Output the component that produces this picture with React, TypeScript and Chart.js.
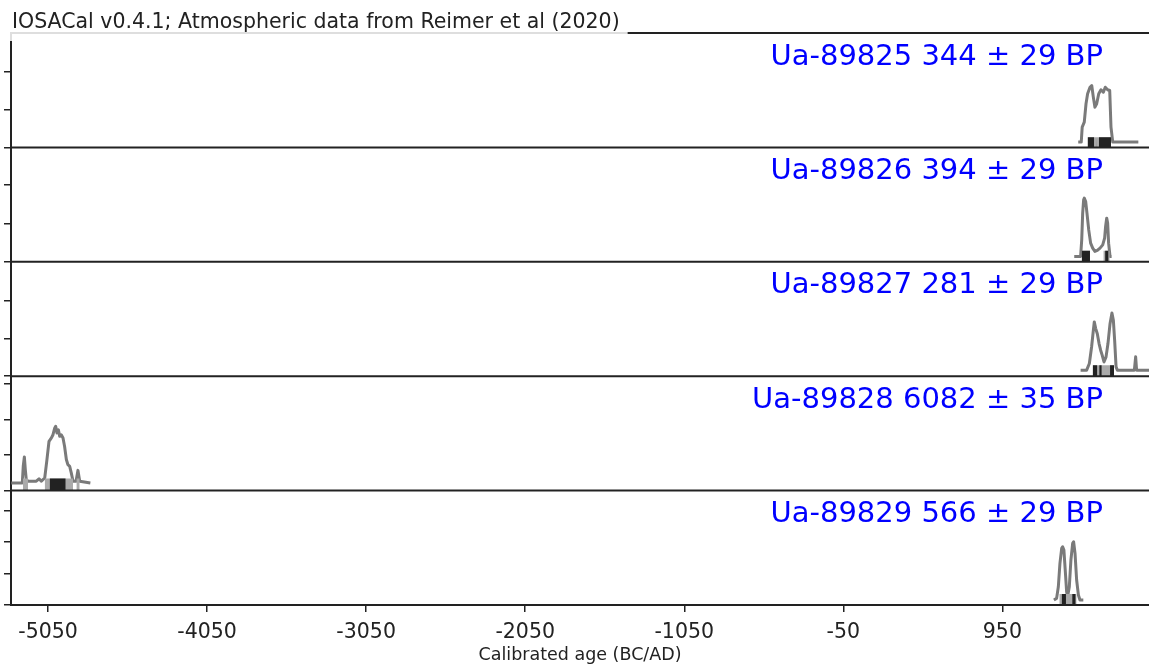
import React, { useEffect, useRef } from 'react';
import { Chart, registerables } from 'chart.js';

Chart.register(...registerables);

const TITLE = 'IOSACal v0.4.1; Atmospheric data from Reimer et al (2020)';
const X_LABEL = 'Calibrated age (BC/AD)';
const X_TICKS = [-5050, -4050, -3050, -2050, -1050, -50, 950];
const X_MIN = -5283;
const X_MAX = 1872;
const Y_TICKS = [0, 0.002, 0.004, 0.006];

const SAMPLE_LABELS = [
  'Ua-89825 344 ± 29 BP',
  'Ua-89826 394 ± 29 BP',
  'Ua-89827 281 ± 29 BP',
  'Ua-89828 6082 ± 35 BP',
  'Ua-89829 566 ± 29 BP',
];
const PANEL_MAX = [0.00603, 0.00595, 0.00603, 0.00645, 0.00727];
const BAR_HEIGHT = [0.00054, 0.00057, 0.00058, 0.00068, 0.0007];

// Ua-89825
const years1 = [1427, 1446, 1452, 1465, 1476, 1486, 1501, 1512, 1522, 1532, 1543, 1556, 1570, 1585, 1597, 1612, 1625, 1633, 1644, 1805];
const dens1 = [0.00028, 0.00028, 0.00107, 0.00133, 0.0023, 0.00283, 0.00317, 0.00326, 0.00265, 0.00212, 0.0023, 0.00283, 0.00304, 0.00291, 0.00317, 0.00304, 0.003, 0.00107, 0.00028, 0.00028];
const range95_1: [number, number][] = [[1486, 1633]];
const range68_1: [number, number][] = [[1486, 1527], [1540, 1543], [1557, 1633]];

// Ua-89826
const years2 = [1402, 1442, 1449, 1455, 1461, 1465, 1474, 1482, 1493, 1505, 1518, 1532, 1547, 1564, 1581, 1593, 1599, 1606, 1612, 1618, 1627, 1637];
const dens2 = [0.00028, 0.00028, 0.00114, 0.00253, 0.00322, 0.00331, 0.00313, 0.00253, 0.00166, 0.00097, 0.00071, 0.00054, 0.00059, 0.00071, 0.00088, 0.00123, 0.00183, 0.00227, 0.00201, 0.00097, 0.00028, 0.00028];
const range95_2: [number, number][] = [[1449, 1501], [1585, 1625]];
const range68_2: [number, number][] = [[1449, 1501], [1596, 1618]];

// Ua-89827
const years3 = [1442, 1480, 1497, 1511, 1522, 1528, 1537, 1547, 1558, 1568, 1578, 1589, 1602, 1614, 1627, 1639, 1648, 1656, 1665, 1673, 1780, 1788, 1794, 1872];
const dens3 = [0.00032, 0.00032, 0.00067, 0.00154, 0.00242, 0.00286, 0.00251, 0.00224, 0.00172, 0.00137, 0.0011, 0.00075, 0.00102, 0.00172, 0.00277, 0.00333, 0.00295, 0.00189, 0.00049, 0.00032, 0.00032, 0.00102, 0.00032, 0.00032];
const range95_3: [number, number][] = [[1518, 1652]];
const range68_3: [number, number][] = [[1518, 1547], [1559, 1575], [1627, 1652]];

// Ua-89828
const years4 = [-5281, -5212, -5206, -5199, -5193, -5187, -5176, -5124, -5107, -5092, -5071, -5057, -5044, -5029, -5019, -5008, -5002, -4994, -4985, -4977, -4967, -4956, -4946, -4935, -4925, -4914, -4904, -4893, -4874, -4862, -4851, -4784];
const dens4 = [0.00043, 0.00043, 0.00137, 0.0019, 0.00118, 0.00062, 0.00053, 0.00053, 0.00066, 0.00053, 0.00071, 0.00175, 0.00278, 0.00297, 0.00315, 0.00353, 0.00362, 0.00325, 0.00343, 0.00306, 0.00315, 0.00297, 0.00249, 0.00175, 0.00146, 0.00137, 0.001, 0.00053, 0.00053, 0.00114, 0.00053, 0.00043];
const range95_4: [number, number][] = [[-5208, -5176], [-5071, -4893], [-4872, -4851]];
const range68_4: [number, number][] = [[-5040, -4939]];

// Ua-89829
const years5 = [1274, 1291, 1302, 1312, 1323, 1329, 1337, 1348, 1354, 1360, 1371, 1381, 1392, 1398, 1407, 1417, 1428, 1438, 1459];
const dens5 = [0.00032, 0.00042, 0.00116, 0.00265, 0.0036, 0.0037, 0.00349, 0.0018, 0.00085, 0.00053, 0.00116, 0.00286, 0.00392, 0.00402, 0.00328, 0.00159, 0.00064, 0.00032, 0.00032];
const range95_5: [number, number][] = [[1308, 1417]];
const range68_5: [number, number][] = [[1323, 1350], [1389, 1411]];

const PANELS = [
  { years: years1, dens: dens1, r95: range95_1, r68: range68_1 },
  { years: years2, dens: dens2, r95: range95_2, r68: range68_2 },
  { years: years3, dens: dens3, r95: range95_3, r68: range68_3 },
  { years: years4, dens: dens4, r95: range95_4, r68: range68_4 },
  { years: years5, dens: dens5, r95: range95_5, r68: range68_5 },
];

const FONT = 'DejaVu Sans';
const INK = '#222222';

function barData(a: number, b: number, h: number) {
  return [
    { x: a, y: 0 },
    { x: a, y: h },
    { x: b, y: h },
    { x: b, y: 0 },
  ];
}

const decoPlugin = {
  id: 'deco',
  afterDraw(chart: any) {
    const ctx = chart.ctx as CanvasRenderingContext2D;
    const ca = chart.chartArea;
    ctx.save();
    // panel bottom spines
    ctx.strokeStyle = INK;
    ctx.lineWidth = 2;
    for (let i = 0; i < PANELS.length; i++) {
      const s = chart.scales['y' + i];
      ctx.beginPath();
      ctx.moveTo(ca.left - 1, s.bottom);
      ctx.lineTo(ca.right, s.bottom);
      ctx.stroke();
    }
    // top frame line
    ctx.beginPath();
    ctx.moveTo(ca.left - 1, ca.top);
    ctx.lineTo(ca.right, ca.top);
    ctx.stroke();
    // title with translucent white box
    ctx.font = `20.5px "${FONT}"`;
    const tw = ctx.measureText(TITLE).width;
    ctx.fillStyle = 'rgba(255,255,255,0.85)';
    ctx.fillRect(6, 4, tw + 14, 37);
    ctx.fillStyle = INK;
    ctx.textAlign = 'left';
    ctx.textBaseline = 'alphabetic';
    ctx.fillText(TITLE, 12, 28);
    // sample labels
    ctx.font = `29px "${FONT}"`;
    ctx.fillStyle = '#0000ff';
    ctx.textAlign = 'right';
    for (let i = 0; i < PANELS.length; i++) {
      const s = chart.scales['y' + i];
      ctx.fillText(SAMPLE_LABELS[i], 1103, s.top + 31.5);
    }
    ctx.restore();
  },
};

export default function App() {
  const ref = useRef<HTMLCanvasElement>(null);

  useEffect(() => {
    const canvas = ref.current;
    if (!canvas) return;
    const datasets: any[] = [];
    const scales: any = {
      x: {
        type: 'linear',
        position: 'bottom',
        min: X_MIN,
        max: X_MAX,
        afterBuildTicks: (s: any) => {
          s.ticks = X_TICKS.map((v) => ({ value: v }));
        },
        afterFit: (s: any) => {
          s.height = 61;
        },
        ticks: {
          callback: (v: any) => String(v),
          font: { family: FONT, size: 20.5 },
          color: INK,
          padding: 8,
          maxRotation: 0,
          autoSkip: false,
        },
        grid: { display: true, drawOnChartArea: false, drawTicks: true, tickLength: 7, color: INK, lineWidth: 1.5 },
        border: { display: true, color: INK, width: 2 },
        title: { display: true, text: X_LABEL, font: { family: FONT, size: 17.5 }, color: INK, padding: 0 },
      },
    };

    PANELS.forEach((p, i) => {
      const yId = 'y' + i;
      const h = BAR_HEIGHT[i];
      p.r68.forEach(([a, b]) => {
        datasets.push({
          type: 'line',
          data: barData(a, b, h),
          xAxisID: 'x',
          yAxisID: yId,
          borderColor: 'rgba(0,0,0,0)',
          borderWidth: 1,
          backgroundColor: '#222222',
          fill: 'origin',
          pointRadius: 0,
          tension: 0,
          order: 0,
        });
      });
      p.r95.forEach(([a, b]) => {
        datasets.push({
          type: 'line',
          data: barData(a, b, h),
          xAxisID: 'x',
          yAxisID: yId,
          borderColor: 'rgba(0,0,0,0)',
          borderWidth: 1,
          backgroundColor: '#aaaaaa',
          fill: 'origin',
          pointRadius: 0,
          tension: 0,
          order: 1,
        });
      });
      datasets.push({
        type: 'line',
        data: p.years.map((x, k) => ({ x, y: p.dens[k] })),
        xAxisID: 'x',
        yAxisID: yId,
        borderColor: '#7a7a7a',
        borderWidth: 3,
        borderJoinStyle: 'round',
        fill: false,
        pointRadius: 0,
        tension: 0,
        order: 2,
      });
      const max = PANEL_MAX[i];
      scales[yId] = {
        type: 'linear',
        position: 'left',
        stack: 'panels',
        stackWeight: 1,
        weight: PANELS.length - i,
        offset: false,
        min: 0,
        max,
        afterBuildTicks: (s: any) => {
          s.ticks = Y_TICKS.filter((v) => v <= max * 0.98).map((v) => ({ value: v }));
        },
        afterFit: (s: any) => {
          s.width = 11;
        },
        ticks: { display: false },
        grid: { display: true, drawOnChartArea: false, drawTicks: true, tickLength: 7, color: INK, lineWidth: 1.5 },
        border: { display: true, color: INK, width: 2 },
      };
    });

    const chart = new Chart(canvas, {
      type: 'line',
      data: { datasets },
      options: {
        responsive: false,
        animation: false,
        devicePixelRatio: 1,
        layout: { padding: { top: 33, left: 0, right: 0, bottom: 0 } },
        plugins: {
          legend: { display: false },
          tooltip: { enabled: false },
          title: { display: false },
        },
        scales,
      },
      plugins: [decoPlugin],
    } as any);
    return () => chart.destroy();
  }, []);

  return (
    <div style={{ position: 'fixed', left: 0, top: 0, width: 1149, height: 666, background: '#ffffff' }}>
      <canvas ref={ref} width={1149} height={666} style={{ display: 'block', width: 1149, height: 666 }} />
    </div>
  );
}
